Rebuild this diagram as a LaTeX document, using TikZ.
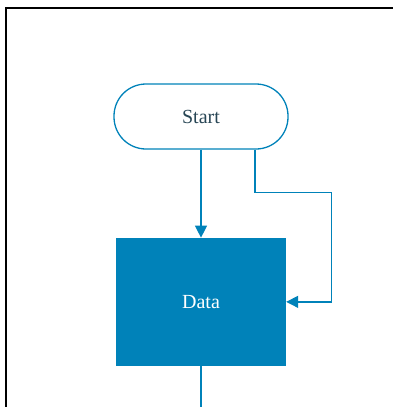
\documentclass[tikz,border=0pt]{standalone}
\usepackage{fontspec}
\setmainfont{Liberation Serif}
\usepackage{tikz}
\usetikzlibrary{arrows.meta,positioning}
\definecolor{flowblue}{RGB}{0,130,185}
\definecolor{flowtext}{RGB}{40,70,85}

\begin{document}
\begin{tikzpicture}[
  x=1pt, y=1pt,
  node distance=88pt,
  term/.style={draw=flowblue, line width=1.3pt, rounded corners=32pt,
               minimum width=174pt, minimum height=65pt, inner sep=0pt,
               text=flowtext, font=\fontsize{20}{24}\selectfont},
  databox/.style={fill=flowblue, minimum width=170pt, minimum height=128pt,
                  inner sep=0pt, text=white, font=\fontsize{20}{24}\selectfont},
  arr/.style={-{Triangle[length=12pt,width=12pt]}, draw=flowblue, line width=1.3pt},
  line/.style={draw=flowblue, line width=1.3pt}
]
\useasboundingbox (0,0) rectangle (393,-407);
% frame round the page
\draw[line width=2.5pt] (393,-8) -- (6,-8) -- (6,-407);

\node[term] (start) at (201,-116.5) {Start};
\node[databox, below=of start] (data) {Data};
\coordinate[right=45pt of data.east] (loop);
\coordinate[below=42pt of data.south] (out);

\draw[arr] (start) -- (data);
\draw[arr] ([xshift=54pt]start.south) -- ++(0,-43pt) -| (loop) -- (data.east);
\draw[line] (data) -- (out);
\end{tikzpicture}
\end{document}
